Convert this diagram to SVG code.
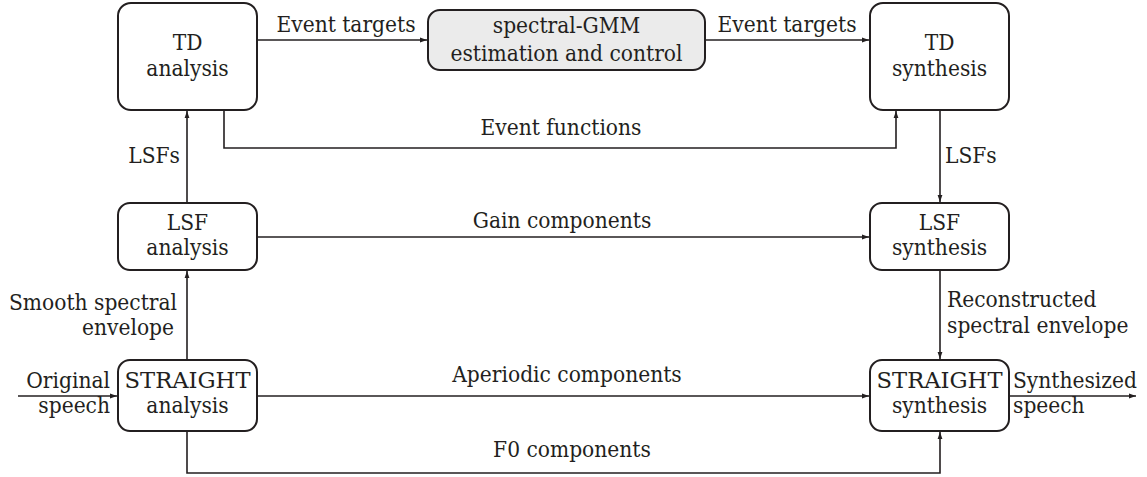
<svg xmlns="http://www.w3.org/2000/svg" width="1147" height="477" viewBox="0 0 1147 477">
<style>
text{font-family:"DejaVu Serif Condensed","DejaVu Serif","Liberation Serif",serif;font-stretch:condensed;font-size:22.5px;fill:#231f20}
.m{text-anchor:middle}
.e{text-anchor:end}
.box{fill:#fff;stroke:#231f20;stroke-width:2}
.gray{fill:#ebebeb}
.c{fill:none;stroke:#231f20;stroke-width:1.6}
</style>
<defs>
<marker id="ah" markerWidth="8" markerHeight="6" refX="7" refY="3" orient="auto" markerUnits="userSpaceOnUse">
<path d="M0,0.6 L7,3 L0,5.4 Z" fill="#231f20"/>
</marker>
</defs>
<rect width="1147" height="477" fill="#fff"/>
<g id="connectors">
<path class="c" d="M257,40 H427" marker-end="url(#ah)"/>
<path class="c" d="M705,40 H869" marker-end="url(#ah)"/>
<path class="c" d="M224,110 V148 H896 V111" marker-end="url(#ah)"/>
<path class="c" d="M187,203 V111" marker-end="url(#ah)"/>
<path class="c" d="M940,110 V202" marker-end="url(#ah)"/>
<path class="c" d="M257,237 H869" marker-end="url(#ah)"/>
<path class="c" d="M187,360 V271" marker-end="url(#ah)"/>
<path class="c" d="M940,270 V359" marker-end="url(#ah)"/>
<path class="c" d="M18,396 H117" marker-end="url(#ah)"/>
<path class="c" d="M257,396 H869" marker-end="url(#ah)"/>
<path class="c" d="M187,431 V473 H940 V432" marker-end="url(#ah)"/>
<path class="c" d="M1009,396 H1136" marker-end="url(#ah)"/>
<text class="m" x="346" y="32">Event targets</text>
<text class="m" x="787" y="32">Event targets</text>
<text class="m" x="561" y="135">Event functions</text>
<text class="e" x="180" y="163">LSFs</text>
<text x="945" y="163">LSFs</text>
<text class="m" x="562" y="228">Gain components</text>
<text class="e" x="177" y="310">Smooth spectral</text>
<text class="e" x="174" y="335">envelope</text>
<text x="947" y="307">Reconstructed</text>
<text x="947" y="333">spectral envelope</text>
<text class="e" x="110" y="388">Original</text>
<text class="e" x="110" y="413">speech</text>
<text class="m" x="567" y="382">Aperiodic components</text>
<text x="1013" y="388">Synthesized</text>
<text x="1013" y="413">speech</text>
<text class="m" x="572" y="457">F0 components</text>
</g>
<g id="td-analysis">
<rect class="box" x="118" y="3" width="139" height="107" rx="13"/>
<text class="m" x="187.5" y="50">TD</text>
<text class="m" x="187.5" y="76">analysis</text>
</g>
<g id="spectral-gmm">
<rect class="box gray" x="428" y="10" width="277" height="60" rx="12"/>
<text class="m" x="566.5" y="33">spectral-GMM</text>
<text class="m" x="566.5" y="61">estimation and control</text>
</g>
<g id="td-synthesis">
<rect class="box" x="870" y="3" width="139" height="107" rx="13"/>
<text class="m" x="939.5" y="50">TD</text>
<text class="m" x="939.5" y="76">synthesis</text>
</g>
<g id="lsf-analysis">
<rect class="box" x="118" y="203" width="139" height="67" rx="12"/>
<text class="m" x="187.5" y="230">LSF</text>
<text class="m" x="187.5" y="255">analysis</text>
</g>
<g id="lsf-synthesis">
<rect class="box" x="870" y="203" width="139" height="67" rx="12"/>
<text class="m" x="939.5" y="230">LSF</text>
<text class="m" x="939.5" y="255">synthesis</text>
</g>
<g id="straight-analysis">
<rect class="box" x="118" y="360" width="139" height="71" rx="12"/>
<text class="m" x="187.5" y="388" textLength="126" lengthAdjust="spacingAndGlyphs">STRAIGHT</text>
<text class="m" x="187.5" y="413">analysis</text>
</g>
<g id="straight-synthesis">
<rect class="box" x="870" y="360" width="139" height="71" rx="12"/>
<text class="m" x="939.5" y="388" textLength="126" lengthAdjust="spacingAndGlyphs">STRAIGHT</text>
<text class="m" x="939.5" y="413">synthesis</text>
</g>
</svg>
